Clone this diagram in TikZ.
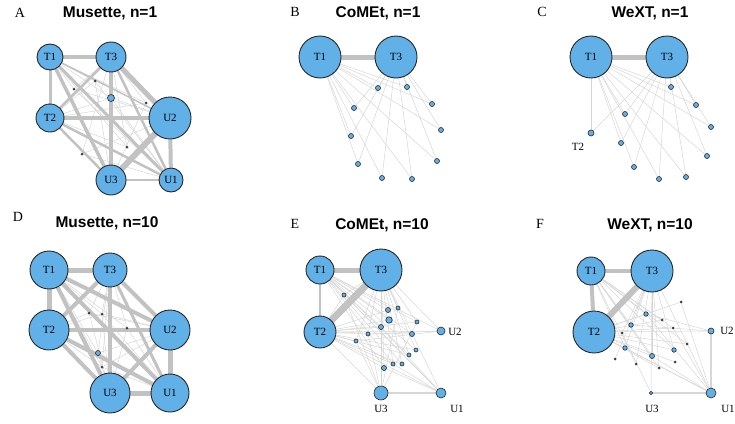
\documentclass[tikz,border=0pt]{standalone}
\usepackage{fontspec}
\setmainfont{Liberation Serif}
\newfontfamily\titlefont{Liberation Sans}
\usetikzlibrary{backgrounds}
\definecolor{nodeblue}{RGB}{98,176,232}
\definecolor{linkgray}{RGB}{194,194,194}
\definecolor{faintgray}{RGB}{214,214,214}
\tikzset{
 gene/.style = {circle, draw=black!85, fill=nodeblue, line width=0.9pt,
           inner sep=0pt, font=\fontsize{11}{11}\selectfont},
 dot/.style = {circle, draw=black!85, fill=nodeblue, line width=0.6pt,
           inner sep=0pt, minimum size=5pt},
 speck/.style = {circle, fill=black!75, inner sep=0pt, minimum size=3pt},
 outer/.style = {font=\fontsize{11}{11}\selectfont, inner sep=0pt},
 link/.style = {draw=linkgray, line width=#1},
 faint/.style = {draw=faintgray, line width=0.5pt},
 panel/.style = {font=\fontsize{14}{14}\selectfont},
 caption/.style = {font=\titlefont\bfseries\fontsize{15.5}{15.5}\selectfont}
}

\begin{document}
\begin{tikzpicture}[x=1pt, y=-1pt]
  \useasboundingbox (0,0) rectangle (735,423);

  % Panel A
  \node[panel] (A-lab) at (20,13) {A};
  \node[caption] (A-cap) at (110,13) {Musette, n=1};
  \node[gene, minimum size=26pt] (A-T1) at (50,57) {T1};
  \node[gene, minimum size=30pt] (A-T3) at (111,57) {T3};
  \node[gene, minimum size=28pt] (A-T2) at (50,118) {T2};
  \node[gene, minimum size=42pt] (A-U2) at (170,118) {U2};
  \node[gene, minimum size=30pt] (A-U3) at (111,180) {U3};
  \node[gene, minimum size=24pt] (A-U1) at (171,180) {U1};
  \node[dot, minimum size=7pt] (A-s) at (111,98) {};
  \node[speck] (A-1) at (74,89) {};
  \node[speck] (A-2) at (95,81) {};
  \node[speck] (A-3) at (146,103) {};
  \node[speck] (A-4) at (127,147) {};
  \node[speck] (A-5) at (82,154) {};
  \begin{scope}[on background layer]
    \draw[faint] (A-s) edge (A-T1) edge (A-T2) edge (A-T3)
      edge (A-U1) edge (A-U2) edge (A-U3);
    \draw[faint] (A-T1) edge (A-1) edge (A-2) edge (A-3) edge (A-4);
    \draw[faint] (A-T3) edge (A-1) edge (A-4) edge (A-5) edge (A-3);
    \draw[faint] (A-T2) edge (A-2) edge (A-4) edge (A-3);
    \draw[faint] (A-U1) edge (A-1) edge (A-2) edge (A-5);
    \draw[faint] (A-U3) edge (A-2) edge (A-3);
    \draw[faint] (A-U2) edge (A-5) edge (A-1);
    \draw[link=4pt] (A-T1) -- (A-T3);
    \draw[link=3pt] (A-T1) -- (A-T2);
    \draw[link=3.5pt] (A-T1) -- (A-U3);
    \draw[link=3pt] (A-T1) -- (A-U1);
    \draw[link=1.5pt] (A-T1) -- (A-U2);
    \draw[link=2.5pt] (A-T3) -- (A-T2);
    \draw[link=5pt] (A-T3) -- (A-U2);
    \draw[link=4pt] (A-T3) -- (A-U3);
    \draw[link=2.5pt] (A-T3) -- (A-U1);
    \draw[link=4.5pt] (A-T2) -- (A-U2);
    \draw[link=2.5pt] (A-T2) -- (A-U3);
    \draw[link=2.5pt] (A-T2) -- (A-U1);
    \draw[link=6pt] (A-U2) -- (A-U3);
    \draw[link=4pt] (A-U2) -- (A-U1);
    \draw[link=2pt] (A-U3) -- (A-U1);
  \end{scope}

  % Panel B
  \node[panel] (B-lab) at (295,12) {B};
  \node[caption] (B-cap) at (378,13) {CoMEt, n=1};
  \node[gene, minimum size=42pt] (B-T1) at (320,57) {T1};
  \node[gene, minimum size=42pt] (B-T3) at (396,57) {T3};
  \node[dot] (B-1) at (378,88) {};
  \node[dot] (B-2) at (407,87) {};
  \node[dot] (B-3) at (432,104) {};
  \node[dot] (B-4) at (354,108) {};
  \node[dot] (B-5) at (441,130) {};
  \node[dot] (B-6) at (351,136) {};
  \node[dot] (B-7) at (437,161) {};
  \node[dot] (B-8) at (358,164) {};
  \node[dot] (B-9) at (382,178) {};
  \node[dot] (B-10) at (412,179) {};
  \begin{scope}[on background layer]
    \draw[faint] (B-T1) edge (B-1) edge (B-2) edge (B-3) edge (B-4)
      edge (B-5) edge (B-6) edge (B-7) edge (B-8) edge (B-9) edge (B-10);
    \draw[faint] (B-T3) edge (B-1) edge (B-2) edge (B-3) edge (B-4)
      edge (B-5) edge (B-6) edge (B-7) edge (B-8) edge (B-9) edge (B-10);
    \draw[link=5pt] (B-T1) -- (B-T3);
  \end{scope}

  % Panel C
  \node[panel] (C-lab) at (542,12) {C};
  \node[caption] (C-cap) at (650,13) {WeXT, n=1};
  \node[gene, minimum size=42pt] (C-T1) at (591,57) {T1};
  \node[gene, minimum size=42pt] (C-T3) at (667,57) {T3};
  \node[dot, minimum size=6pt] (C-T2) at (591,133) {};
  \node[outer] (C-T2lab) at (578,147) {T2};
  \node[dot] (C-1) at (671,87) {};
  \node[dot] (C-2) at (696,105) {};
  \node[dot] (C-3) at (625,114) {};
  \node[dot] (C-4) at (711,127) {};
  \node[dot] (C-5) at (621,143) {};
  \node[dot] (C-6) at (707,156) {};
  \node[dot] (C-7) at (634,167) {};
  \node[dot] (C-8) at (659,179) {};
  \node[dot] (C-9) at (686,177) {};
  \begin{scope}[on background layer]
    \draw[faint] (C-T1) edge (C-T2) edge (C-1) edge (C-2) edge (C-3)
      edge (C-4) edge (C-5) edge (C-6) edge (C-7) edge (C-8) edge (C-9);
    \draw[faint] (C-T3) edge (C-T2) edge (C-1) edge (C-2) edge (C-3)
      edge (C-4) edge (C-5) edge (C-6) edge (C-7) edge (C-8) edge (C-9);
    \draw[link=5pt] (C-T1) -- (C-T3);
  \end{scope}

  % Panel D
  \node[panel] (D-lab) at (18,217) {D};
  \node[caption] (D-cap) at (107,223) {Musette, n=10};
  \node[gene, minimum size=38pt] (D-T1) at (49,270) {T1};
  \node[gene, minimum size=34pt] (D-T3) at (110,270) {T3};
  \node[gene, minimum size=40pt] (D-T2) at (49,330) {T2};
  \node[gene, minimum size=40pt] (D-U2) at (170,330) {U2};
  \node[gene, minimum size=40pt] (D-U3) at (110,393) {U3};
  \node[gene, minimum size=38pt] (D-U1) at (170,393) {U1};
  \node[speck] (D-1) at (89,313) {};
  \node[speck] (D-2) at (102,314) {};
  \node[speck] (D-3) at (127,328) {};
  \node[dot] (D-4) at (98,353) {};
  \node[speck] (D-5) at (102,367) {};
  \begin{scope}[on background layer]
    \draw[faint] (D-T1) edge (D-1) edge (D-2) edge (D-3) edge (D-4) edge (D-5);
    \draw[faint] (D-T3) edge (D-1) edge (D-2) edge (D-3) edge (D-4) edge (D-5);
    \draw[faint] (D-T2) edge (D-1) edge (D-2) edge (D-3) edge (D-4) edge (D-5);
    \draw[faint] (D-U2) edge (D-1) edge (D-2) edge (D-4) edge (D-5);
    \draw[faint] (D-U3) edge (D-1) edge (D-2) edge (D-3) edge (D-4);
    \draw[faint] (D-U1) edge (D-1) edge (D-2) edge (D-3) edge (D-4) edge (D-5);
    \draw[link=5pt] (D-T1) -- (D-T3);
    \draw[link=5pt] (D-T1) -- (D-T2);
    \draw[link=4pt] (D-T1) -- (D-U2);
    \draw[link=4pt] (D-T1) -- (D-U3);
    \draw[link=4pt] (D-T1) -- (D-U1);
    \draw[link=4pt] (D-T3) -- (D-T2);
    \draw[link=4pt] (D-T3) -- (D-U2);
    \draw[link=4pt] (D-T3) -- (D-U3);
    \draw[link=3pt] (D-T3) -- (D-U1);
    \draw[link=4pt] (D-T2) -- (D-U2);
    \draw[link=4pt] (D-T2) -- (D-U3);
    \draw[link=4pt] (D-T2) -- (D-U1);
    \draw[link=4pt] (D-U2) -- (D-U3);
    \draw[link=5pt] (D-U2) -- (D-U1);
    \draw[link=5pt] (D-U3) -- (D-U1);
  \end{scope}

  % Panel E
  \node[panel] (E-lab) at (295,224) {E};
  \node[caption] (E-cap) at (382,225) {CoMEt, n=10};
  \node[gene, minimum size=28pt] (E-T1) at (320,270) {T1};
  \node[gene, minimum size=42pt] (E-T3) at (381,270) {T3};
  \node[gene, minimum size=32pt] (E-T2) at (320,332) {T2};
  \node[dot, minimum size=8pt] (E-U2) at (441,331) {};
  \node[dot, minimum size=14pt] (E-U3) at (381,393) {};
  \node[dot, minimum size=10pt] (E-U1) at (441,393) {};
  \node[outer] (E-U2lab) at (455,332) {U2};
  \node[outer] (E-U3lab) at (381,409) {U3};
  \node[outer] (E-U1lab) at (457,409) {U1};
  \node[dot, minimum size=4pt] (E-1) at (344,295) {};
  \node[dot] (E-2) at (388,310) {};
  \node[dot, minimum size=4pt] (E-3) at (398,308) {};
  \node[dot, minimum size=6.5pt] (E-4) at (389,320) {};
  \node[dot, minimum size=4pt] (E-5) at (417,322) {};
  \node[dot] (E-6) at (381,327) {};
  \node[dot, minimum size=4pt] (E-7) at (368,334) {};
  \node[dot] (E-8) at (412,334) {};
  \node[dot, minimum size=4pt] (E-9) at (356,341) {};
  \node[dot, minimum size=4pt] (E-10) at (416,350) {};
  \node[dot, minimum size=4pt] (E-11) at (409,355) {};
  \node[dot, minimum size=4pt] (E-12) at (393,364) {};
  \node[dot, minimum size=4pt] (E-13) at (402,364) {};
  \node[dot] (E-14) at (384,368) {};
  \begin{scope}[on background layer]
    \draw[faint] (E-T1) edge (E-2) edge (E-4) edge (E-5) edge (E-6)
      edge (E-8) edge (E-10) edge (E-11) edge (E-12) edge (E-13)
      edge (E-14) edge (E-U2) edge (E-U1);
    \draw[faint] (E-T2) edge (E-1) edge (E-2) edge (E-4) edge (E-5)
      edge (E-6) edge (E-7) edge (E-8) edge (E-9) edge (E-10) edge (E-11)
      edge (E-12) edge (E-13) edge (E-14) edge (E-U2) edge (E-U3) edge (E-U1);
    \draw[faint] (E-T3) edge (E-1) edge (E-3) edge (E-5) edge (E-7)
      edge (E-9) edge (E-10) edge (E-11) edge (E-12) edge (E-13) edge (E-14)
      edge (E-U2) edge (E-U3) edge (E-U1);
    \draw[faint] (E-U3) edge (E-1) edge (E-9) edge (E-7) edge (E-3) edge (E-5);
    \draw[faint] (E-U1) edge (E-1) edge (E-9) edge (E-6) edge (E-14);
    \draw[faint] (E-U2) edge (E-9) edge (E-7);
    \draw[link=5pt] (E-T1) -- (E-T3);
    \draw[link=2.5pt] (E-T1) -- (E-T2);
    \draw[link=7pt] (E-T2) -- (E-T3);
    \draw[link=1.5pt, draw=faintgray] (E-U3) -- (E-U1);
  \end{scope}

  % Panel F
  \node[panel] (F-lab) at (540,224) {F};
  \node[caption] (F-cap) at (650,225) {WeXT, n=10};
  \node[gene, minimum size=28pt] (F-T1) at (591,271) {T1};
  \node[gene, minimum size=42pt] (F-T3) at (652,271) {T3};
  \node[gene, minimum size=42pt] (F-T2) at (594,332) {T2};
  \node[dot, minimum size=6pt] (F-U2) at (711,331) {};
  \node[dot, minimum size=10pt] (F-U1) at (711,393) {};
  \node[dot, minimum size=3.5pt] (F-U3) at (651,393) {};
  \node[outer] (F-U2lab) at (727,331) {U2};
  \node[outer] (F-U1lab) at (728,409) {U1};
  \node[outer] (F-U3lab) at (652,409) {U3};
  \node[speck] (F-1) at (681,302) {};
  \node[dot, minimum size=4.5pt] (F-2) at (646,314) {};
  \node[speck] (F-3) at (662,320) {};
  \node[dot, minimum size=4.5pt] (F-4) at (631,325) {};
  \node[speck] (F-5) at (673,328) {};
  \node[speck] (F-6) at (622,333) {};
  \node[speck] (F-7) at (687,344) {};
  \node[dot, minimum size=4.5pt] (F-8) at (625,348) {};
  \node[dot, minimum size=4.5pt] (F-9) at (674,350) {};
  \node[dot] (F-10) at (652,356) {};
  \node[speck] (F-11) at (615,359) {};
  \node[speck] (F-12) at (636,364) {};
  \node[speck] (F-13) at (675,362) {};
  \node[speck] (F-14) at (659,368) {};
  \begin{scope}[on background layer]
    \draw[faint] (F-T1) edge (F-2) edge (F-3) edge (F-4) edge (F-5)
      edge (F-7) edge (F-8) edge (F-9) edge (F-10) edge (F-12) edge (F-14);
    \draw[faint] (F-T2) edge (F-1) edge (F-2) edge (F-3) edge (F-5)
      edge (F-7) edge (F-9) edge (F-10) edge (F-13) edge (F-14) edge (F-U2);
    \draw[faint] (F-T3) edge (F-4) edge (F-6) edge (F-8) edge (F-9)
      edge (F-10) edge (F-11) edge (F-12) edge (F-14) edge (F-U3) edge (F-U1);
    \draw[faint] (F-U1) edge (F-1) edge (F-5) edge (F-2) edge (F-10)
      edge (F-8) edge (F-T2);
    \draw[faint] (F-U2) edge (F-2) edge (F-4);
    \draw[faint] (F-U3) edge (F-6);
    \draw[link=3.5pt] (F-T1) -- (F-T3);
    \draw[link=4pt] (F-T1) -- (F-T2);
    \draw[link=6pt] (F-T2) -- (F-T3);
    \draw[link=1.5pt, draw=faintgray] (F-U2) -- (F-U1);
    \draw[link=1.5pt, draw=faintgray] (F-U3) -- (F-U1);
  \end{scope}
\end{tikzpicture}
\end{document}
